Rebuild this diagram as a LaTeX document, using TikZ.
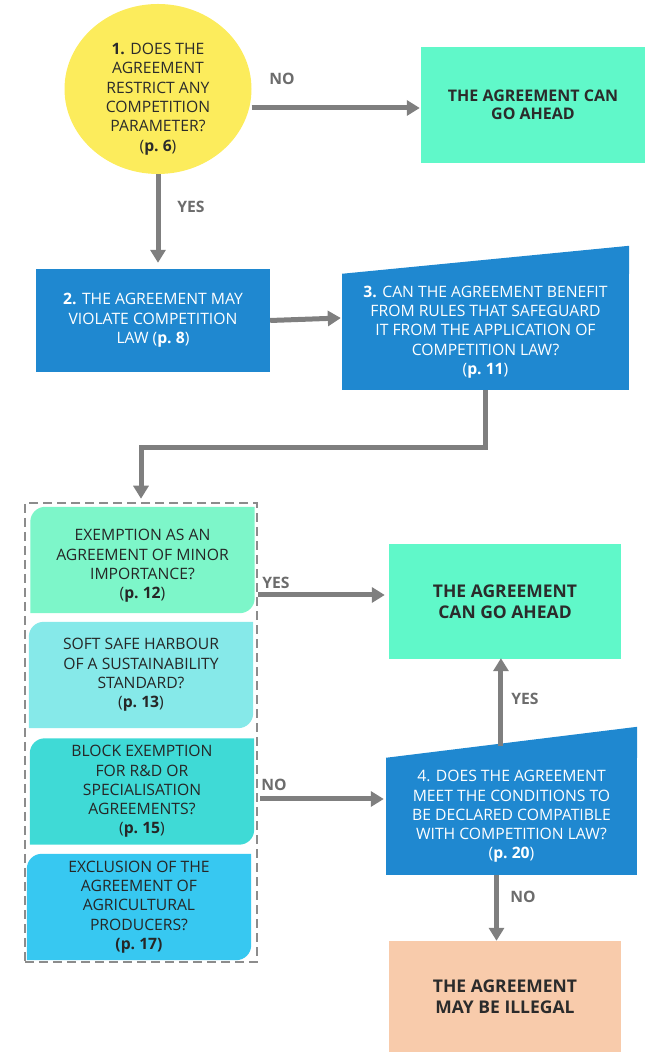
\documentclass[tikz,border=0pt]{standalone}
\usepackage{fontspec}
\setmainfont{Open Sans}
\usetikzlibrary{arrows.meta,shapes.geometric,backgrounds,calc}

\definecolor{qyellow}{HTML}{FCEC5C}
\definecolor{qblue}{HTML}{1F88D0}
\definecolor{okgreen}{HTML}{60F8C9}
\definecolor{leafa}{HTML}{7DF6C9}
\definecolor{leafb}{HTML}{86E9E9}
\definecolor{leafc}{HTML}{3FDAD6}
\definecolor{leafd}{HTML}{37C8F1}
\definecolor{illegal}{HTML}{F8CBAB}
\definecolor{linegray}{HTML}{7F7F7F}
\definecolor{inkdark}{HTML}{2B2B2B}

\newcommand{\pg}[1]{(\textbf{p.~#1})}
% leaf shape: rounded top left and bottom right corners
\newcommand{\leafshape}[2]{%
  \fill[#2] (#1.south west) -- ([yshift=-15pt]#1.north west)
    arc[start angle=180,end angle=90,radius=15pt] -- (#1.north east)
    -- ([yshift=15pt]#1.south east)
    arc[start angle=0,end angle=-90,radius=15pt] -- cycle;}

\begin{document}
\begin{tikzpicture}[x=1pt,y=1pt,
  every node/.style={inner sep=0pt,align=center,text=inkdark,
    font=\fontsize{15.7}{19.3}\selectfont},
  qbox/.style={fill=qblue,text=white},
  okbox/.style={fill=okgreen,font=\bfseries\fontsize{16}{18.5}\selectfont},
  leaf/.style={minimum width=224pt,minimum height=106pt,text=black!85},
  lbl/.style={text=linegray!85!black,font=\bfseries\fontsize{15.7}{17}\selectfont},
  arrow/.style={draw=linegray,line width=5pt,-{Triangle[length=13pt,width=15pt]}}]
  \useasboundingbox (0,0) rectangle (645,1052);

  % question 1 and its answers
  \node[ellipse,fill=qyellow,minimum width=187pt,minimum height=170pt] (q1) at (158,963) {};
  \node (q1text) at (158,953) {\textbf{1.} DOES THE\\AGREEMENT\\RESTRICT ANY\\COMPETITION\\PARAMETER?\\\pg{6}};
  \node[okbox,minimum width=224pt,minimum height=116pt] (ok1) at (533,947) {THE AGREEMENT CAN\\GO AHEAD};

  \node[qbox,minimum width=234pt,minimum height=103pt] (q2) at (153,731.5)
    {\textbf{2.} THE AGREEMENT MAY\\VIOLATE COMPETITION\\LAW \pg{8}};
  \node[qbox,minimum width=287pt,minimum height=116pt] (q3) at (485.5,720)
    {\textbf{3.} CAN THE AGREEMENT BENEFIT\\FROM RULES THAT SAFEGUARD\\IT FROM THE APPLICATION OF\\COMPETITION LAW?\\\pg{11}};
  \fill[qblue] (q3.north west) -- (q3.north east) -- ([yshift=28pt]q3.north east) -- cycle;

  % safeguarding rules
  \node[draw=linegray!90,line width=2.5pt,dash pattern=on 9pt off 5pt,
    minimum width=232pt,minimum height=459pt] (grp) at (141,319.5) {};
  \node[leaf] (lfa) at (142.5,486) {EXEMPTION AS AN\\AGREEMENT OF MINOR\\IMPORTANCE?\\\pg{12}};
  \node[leaf] (lfb) at (141,377) {SOFT SAFE HARBOUR\\OF A SUSTAINABILITY\\STANDARD?\\\pg{13}};
  \node[leaf] (lfc) at (142,260.5) {BLOCK EXEMPTION\\FOR R\&D OR\\SPECIALISATION\\AGREEMENTS?\\\pg{15}};
  \node[leaf] (lfd) at (139,145) {EXCLUSION OF THE\\AGREEMENT OF\\AGRICULTURAL\\PRODUCERS?\\\textbf{(p.~17)}};
  \begin{scope}[on background layer]
    \fill[leafa] ([yshift=6pt]lfa.south west) -- ([yshift=-9pt]lfa.north west)
      arc[start angle=180,end angle=90,radius=15pt] -- ([yshift=6pt]lfa.north east)
      -- ([yshift=21pt]lfa.south east)
      arc[start angle=0,end angle=-90,radius=15pt] -- cycle;
    \leafshape{lfb}{leafb}
    \leafshape{lfc}{leafc}
    \leafshape{lfd}{leafd}
  \end{scope}

  \node[okbox,minimum width=232pt,minimum height=115pt,font=\bfseries\fontsize{17.5}{21}\selectfont] (ok2) at (505,450.5)
    {THE AGREEMENT\\CAN GO AHEAD};
  \node[qbox,minimum width=251pt,minimum height=117pt] (q4) at (511.5,235.5)
    {4. DOES THE AGREEMENT\\MEET THE CONDITIONS TO\\BE DECLARED COMPATIBLE\\WITH COMPETITION LAW?\\\pg{20}};
  \fill[qblue] (q4.north west) -- (q4.north east) -- ([yshift=31pt]q4.north east) -- cycle;
  \node[fill=illegal,minimum width=232pt,minimum height=111pt,font=\bfseries\fontsize{17.5}{20.5}\selectfont] (ill) at (505,55.5)
    {THE AGREEMENT\\MAY BE ILLEGAL};

  % connectors
  \draw[arrow] ([yshift=-3pt]ok1.west -| q1.east) -- ([yshift=-3pt,xshift=-1pt]ok1.west);
  \draw[arrow] (q1.south) -- ([yshift=6pt]q1.south |- q2.north);
  \draw[arrow] (q2.east) -- ([yshift=14pt,xshift=-1pt]q3.west);
  \draw[arrow,-] (q3.south) -- ++(0,-57) -| ([yshift=12pt]grp.north);
  \draw[arrow] ([yshift=14pt]grp.north) -- ([yshift=3pt]grp.north);
  \draw[arrow] ([yshift=6.5pt]ok2.west -| grp.east) -- ([yshift=6.5pt,xshift=-4pt]ok2.west);
  \draw[arrow] ([yshift=17.5pt,xshift=2pt]q4.west -| grp.east) -- ([yshift=17.5pt,xshift=-2pt]q4.west);
  \coordinate (q4top) at ($(q4.north west)!0.458!([yshift=31pt]q4.north east)$);
  \draw[arrow] ([yshift=-2pt]q4top) -- ([yshift=1pt]q4top |- ok2.south);
  \draw[arrow] ([xshift=-15pt]q4.south) -- ([xshift=-15pt]q4.south |- ill.north);

  % answers
  \node[lbl] (no1) at (282,973) {NO};
  \node[lbl] (yes1) at (191,845) {YES};
  \node[lbl] (yes2) at (276,469) {YES};
  \node[lbl] (yes3) at (525,353) {YES};
  \node[lbl] (no2) at (274,267) {NO};
  \node[lbl] (no3) at (523,155) {NO};
\end{tikzpicture}
\end{document}
